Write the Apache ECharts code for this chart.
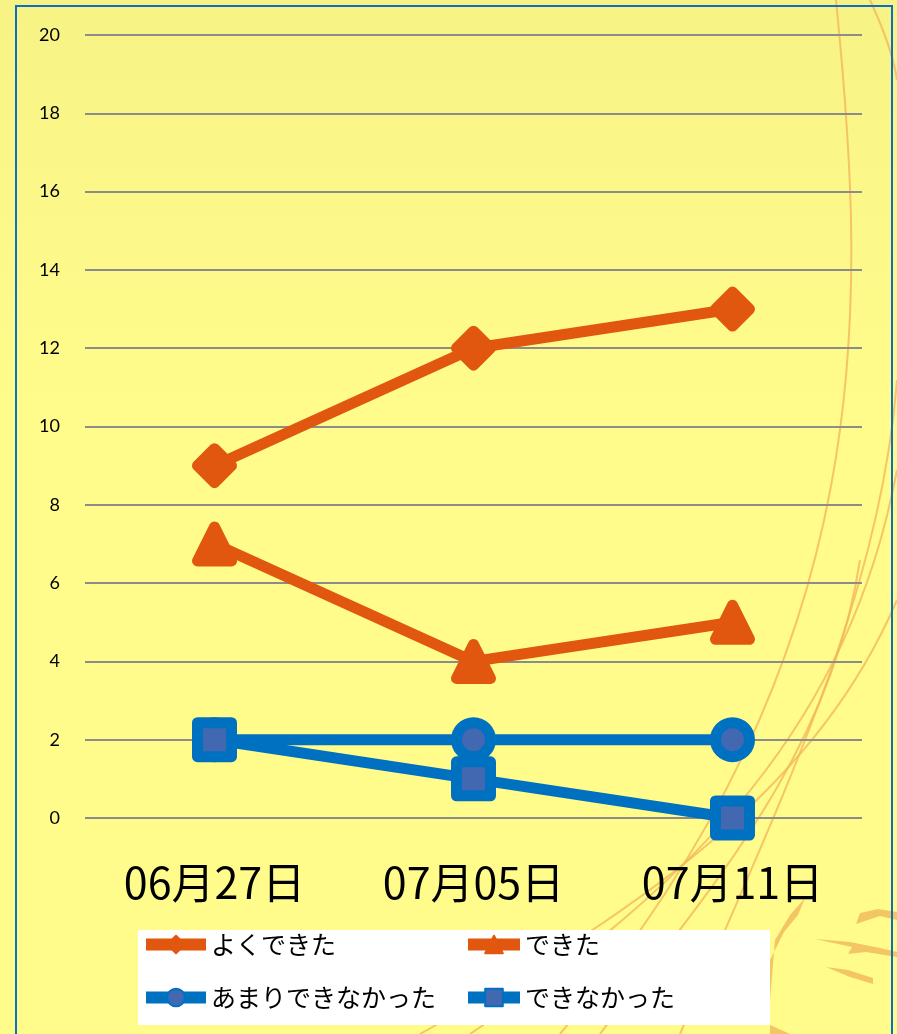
<!DOCTYPE html>
<html>
<head>
<meta charset="utf-8">
<script src="https://cdn.jsdelivr.net/npm/echarts@6/dist/echarts.min.js"></script>
<style>
  html, body { margin: 0; padding: 0; }
  body {
    width: 897px; height: 1034px; overflow: hidden;
    background-color: #FFFC8C;
    background-image:
      linear-gradient(to bottom, rgba(222,212,108,0.24) 0px, rgba(222,212,108,0.10) 220px, rgba(222,212,108,0) 420px);
  }
  #chart { width: 897px; height: 1034px; }
</style>
</head>
<body>
<div id="chart"></div>
<script>
// Evaluation results over three sessions
const dates = ['06月27日', '07月05日', '07月11日'];
const seriesNames = ['よくできた', 'できた', 'あまりできなかった', 'できなかった'];
const veryGood = [9, 12, 13];
const good = [7, 4, 5];
const notSoGood = [2, 2, 2];
const notGood = [2, 1, 0];
const yTicks = { min: 0, max: 20, interval: 2 };

const ORANGE = '#E2570F';
const BLUE = '#0070C0';
const BLUE_FILL = '#4168B0';
const JP_FONT = '"Noto Sans CJK JP", sans-serif';

function lineSeries(name, data, symbol, color, fill) {
  return {
    name: name,
    type: 'line',
    data: data,
    symbol: symbol,
    symbolSize: 34,
    lineStyle: { color: color, width: 11, join: 'round' },
    itemStyle: { color: fill, borderColor: color, borderWidth: 11, borderJoin: 'round' },
    emphasis: { disabled: true },
    animation: false
  };
}

const chart = echarts.init(document.getElementById('chart'), null, { renderer: 'canvas' });

// Decorative strokes on the right-hand side of the sheet
const deco = [
  [[836, 0], [866, 300], [885, 650], [560, 1034]],
  [[897, 470], [850, 720], [700, 880], [470, 1034]],
  [[897, 600], [820, 780], [660, 900], [420, 1034]],
  [[860, 560], [830, 760], [700, 900], [600, 1034]],
  [[870, 0], [884, 30], [894, 60], [897, 80]],
  [[897, 380], [880, 600], [780, 800], [680, 1034]]
].map(function (p) {
  return {
    type: 'bezierCurve',
    z: 0,
    silent: true,
    shape: { x1: p[0][0], y1: p[0][1], cpx1: p[1][0], cpy1: p[1][1], cpx2: p[2][0], cpy2: p[2][1], x2: p[3][0], y2: p[3][1] },
    style: { stroke: '#F2B65C', lineWidth: 2, fill: null, opacity: 0.8 }
  };
});

// Tapered brush marks near the lower-right corner
const brush = [
  [[860, 913], [878, 909], [897, 912], [897, 920], [880, 916], [856, 924]],
  [[815, 939], [850, 942], [880, 948], [897, 952], [897, 957], [866, 952], [848, 954], [852, 947]],
  [[826, 967], [848, 970], [873, 978], [873, 984], [850, 977]],
  [[805, 898], [798, 915], [784, 932], [770, 960], [770, 1000], [775, 940], [790, 915]],
  [[770, 1025], [790, 1034], [770, 1034]]
].map(function (pts) {
  return {
    type: 'polygon', z: 0, silent: true,
    shape: { points: pts },
    style: { fill: '#F2C263', opacity: 0.95 }
  };
});

const legendBase = {
  orient: 'vertical',
  top: 932,
  padding: 0,
  itemHeight: 22,
  itemGap: 28,
  lineStyle: { width: 12 },
  textStyle: { color: '#000', fontSize: 25, fontFamily: JP_FONT }
};

chart.setOption({
  backgroundColor: 'transparent',
  animation: false,
  grid: { left: 85, right: 35, top: 35, bottom: 216, containLabel: false },
  xAxis: {
    type: 'category',
    data: dates,
    boundaryGap: true,
    axisLine: { show: false },
    axisTick: { show: false },
    axisLabel: {
      margin: 43,
      color: '#000',
      fontSize: 43,
      fontFamily: JP_FONT
    },
    splitLine: { show: false }
  },
  yAxis: {
    type: 'value',
    min: yTicks.min,
    max: yTicks.max,
    interval: yTicks.interval,
    axisLine: { show: false },
    axisTick: { show: false },
    axisLabel: {
      margin: 25,
      color: '#000',
      fontSize: 18,
      fontFamily: 'Lato, "Noto Sans", sans-serif'
    },
    splitLine: { show: true, lineStyle: { color: '#8C8C8C', width: 2 } }
  },
  legend: [
    Object.assign({}, legendBase, {
      data: [seriesNames[0], seriesNames[2]],
      left: 140,
      itemWidth: 60
    }),
    Object.assign({}, legendBase, {
      data: [seriesNames[1], seriesNames[3]],
      left: 462,
      itemWidth: 52
    })
  ],
  graphic: {
    elements: deco.concat(brush).concat([
      {
        type: 'rect', z: 1, silent: true,
        shape: { x: 138, y: 930, width: 632, height: 95 },
        style: { fill: '#FFFFFF' }
      },
      {
        type: 'rect', z: 1, silent: true,
        shape: { x: 16, y: 6, width: 876, height: 1060 },
        style: { fill: null, stroke: '#0B6FC6', lineWidth: 2 }
      }
    ])
  },
  series: [
    lineSeries(seriesNames[0], veryGood, 'diamond', ORANGE, ORANGE),
    lineSeries(seriesNames[1], good, 'triangle', ORANGE, ORANGE),
    lineSeries(seriesNames[2], notSoGood, 'circle', BLUE, BLUE_FILL),
    lineSeries(seriesNames[3], notGood, 'rect', BLUE, BLUE_FILL)
  ]
});
</script>
</body>
</html>
